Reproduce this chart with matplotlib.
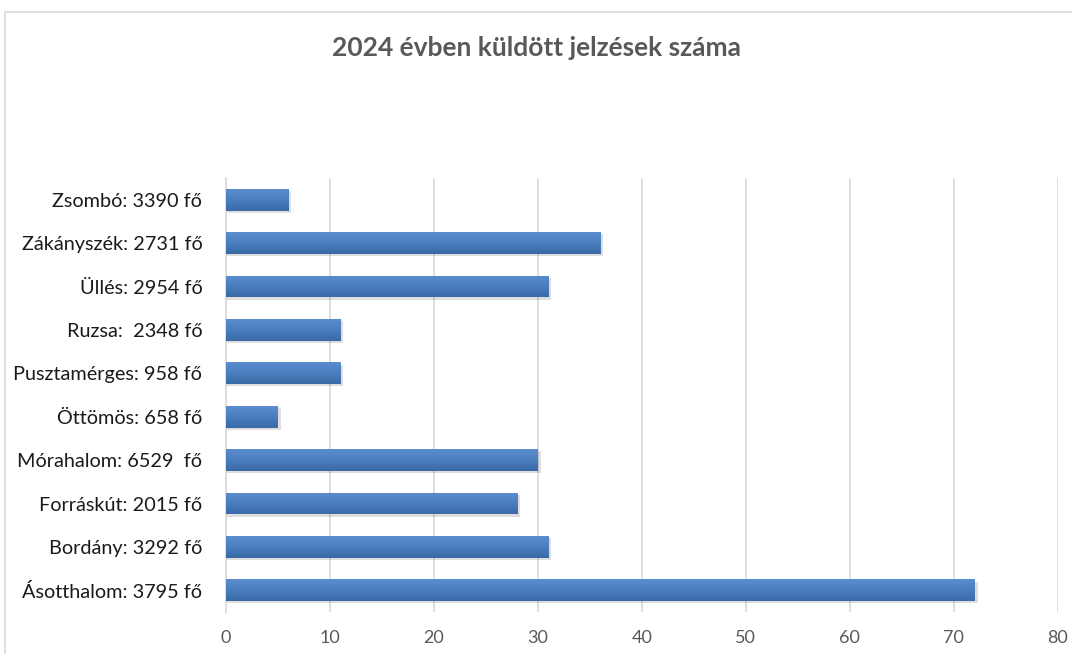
import matplotlib.pyplot as plt
import matplotlib.patches as mpatches
import numpy as np

# települések és a 2024-ben küldött jelzések száma
telepulesek = ['Ásotthalom: 3795 fő', 'Bordány: 3292 fő', 'Forráskút: 2015 fő',
               'Mórahalom: 6529  fő', 'Öttömös: 658 fő', 'Pusztamérges: 958 fő',
               'Ruzsa:  2348 fő', 'Üllés: 2954 fő', 'Zákányszék: 2731 fő',
               'Zsombó: 3390 fő']
jelzesek = [72, 31, 28, 30, 5, 11, 11, 31, 36, 6]
x_ticks = [0, 10, 20, 30, 40, 50, 60, 70, 80]

plt.rcParams['font.family'] = ['Lato', 'DejaVu Sans']

fig = plt.figure(figsize=(10.72, 6.54), dpi=100)
ax = fig.add_axes([0.2108, 0.0642, 0.776, 0.6636])

# keret a diagram körül
fig.patches.append(mpatches.Rectangle((5 / 1072, -0.05), 1.1, 1 - 12 / 654 + 0.05,
                                      transform=fig.transFigure, fill=False,
                                      edgecolor='#d9d9d9', linewidth=1.2))

y = np.arange(len(telepulesek))
height = 0.5

# árnyék a sávok alatt
ax.barh(y - 0.05, [v + 0.3 for v in jelzesek], height, left=0,
        color='#000000', alpha=0.13, zorder=2)
bars = ax.barh(y, jelzesek, height, color='#4a7ebb', zorder=3)

# színátmenet minden sávra
kek = plt.matplotlib.colors.LinearSegmentedColormap.from_list(
    'kek', ['#3a69a6', '#4a7ebf', '#5b8dcf'])
grad = np.linspace(0, 1, 64).reshape(-1, 1)
for rect in bars:
    x0, y0 = rect.get_x(), rect.get_y()
    w, h = rect.get_width(), rect.get_height()
    im = ax.imshow(grad, extent=(x0, x0 + w, y0, y0 + h), aspect='auto',
                   cmap=kek, origin='lower', zorder=4)
    im.set_clip_path(rect)

ax.set_xlim(0, 80)
ax.set_ylim(-0.5, len(telepulesek) - 0.5)
ax.set_xticks(x_ticks)
ax.set_yticks(y)
ax.set_yticklabels(telepulesek, fontsize=14.3, color='#1a1a1a')
ax.tick_params(axis='x', labelsize=13, labelcolor='#595959', length=0, pad=13)
ax.tick_params(axis='y', length=0, pad=17)
ax.grid(axis='x', color='#d9d9d9', linewidth=1.2, zorder=0)
ax.set_axisbelow(True)
for s in ['top', 'right', 'bottom']:
    ax.spines[s].set_visible(False)
ax.spines['left'].set_color('#d9d9d9')
ax.spines['left'].set_linewidth(1.2)

fig.text(0.5, 1 - 48 / 654, '2024 évben küldött jelzések száma', ha='center',
         va='center', fontsize=19, fontweight='bold', color='#595959')

fig.savefig('out.png', dpi=100)
